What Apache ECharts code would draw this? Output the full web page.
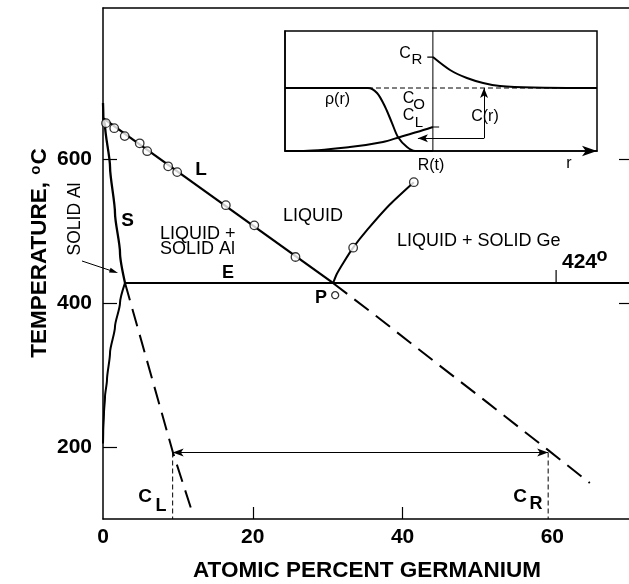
<!DOCTYPE html>
<html><head><meta charset="utf-8">
<script src="https://cdn.jsdelivr.net/npm/echarts@6/dist/echarts.min.js"></script>
<style>html,body{margin:0;padding:0;background:#fff}#c{width:629px;height:584px}</style>
</head><body><div id="c"></div>
<script>
// ---- main diagram data (atomic % Ge, temperature °C) ----
const xLabels = [0, 20, 40, 60];
const xTickMarks = [20, 40];
const yLabels = [200, 400, 600];
const liquidusSolid = [[0, 657], [30.7, 428]];
const liquidusDashed = [[30.7, 428], [36.6, 381], [44.1, 320], [51.3, 262], [59.4, 196], [65.0, 150]];
const liquidusPoints = [[0.4, 650], [1.5, 643], [2.9, 632], [4.9, 622], [5.9, 611], [8.7, 590], [9.9, 582], [16.4, 536], [20.2, 508], [25.7, 464]];
const geLiquidus = [[30.7, 427], [31.2, 440], [32.1, 456], [33.4, 477], [35.3, 502], [38.3, 537], [41.5, 568]];
const gePoints = [[33.4, 477], [41.5, 568]];
const pPoint = [[31.0, 411]];
const eutectic = [[2.94, 428], [70.5, 428]];
const solidus = [[0, 678], [0.05, 657], [0.27, 647], [0.94, 589], [1.6, 525], [2.27, 470], [2.94, 428]];
const solvus = [[2.94, 428], [2.27, 400], [1.6, 367], [0.94, 331], [0.53, 293], [0.27, 270], [0.13, 247], [0.03, 222], [0, 205]];
const solidusDashed = [[2.94, 428], [9.35, 192], [11.9, 110]];
const tieTemp = 192.4;
const cLx = 9.3;
const cRx = 59.44;
const axisMinT = 100;
const tick424 = [[60.5, 428], [60.5, 446]];
// ---- inset data (r, concentration), both 0..100 ----
const rhoCurve = [[0, 52.5], [26.6, 52.5], [29.5, 48.3], [32.1, 36.7], [34.3, 23.3], [36.2, 11.7], [39.1, 3.3], [41.7, 0], [47.4, 0]];
const cLeft = [[0, 0], [4.8, 0], [20.8, 3.3], [31.4, 7.5], [36.9, 11.7], [42.3, 15.8], [47.4, 20]];
const cRight = [[47.4, 78.3], [52.9, 67.5], [58.3, 60.8], [63.5, 56.7], [68.9, 54.2], [79.5, 52.9], [100, 52.5]];
const c0Line = [[26.6, 52.5], [100, 52.5]];
const interfaceLine = [[47.4, 0], [47.4, 100]];
const cRTick = [[45.6, 78.3], [47.4, 78.3]];
const cLTick = [[47.4, 20], [49.4, 20]];
const cArrowFoot = [63.8, 10.6];
const cArrowUp = [63.8, 52.5];
const cArrowLeft = [42.6, 10.6];

const F = '"Liberation Sans", Arial, Helvetica, sans-serif';
const chart = echarts.init(document.getElementById('c'), null, {renderer: 'canvas'});

function ln(data, xi, w, type, extra) {
  return Object.assign({
    type: 'line', data: data, xAxisIndex: xi, yAxisIndex: xi, symbol: 'none', silent: true,
    lineStyle: {color: '#000', width: w, type: type || 'solid'}, z: 3
  }, extra || {});
}
function sc(data, size) {
  return {type: 'scatter', data: data, symbol: 'circle', symbolSize: size, silent: true, z: 5,
    xAxisIndex: 0, yAxisIndex: 0,
    itemStyle: {color: '#fff', borderColor: '#000', borderWidth: 1.3}};
}
function txt(text, x, y, size, weight, align, rot) {
  return {type: 'text', x: x, y: y, rotation: rot || 0, silent: true, z: 10,
    style: {text: text, fill: '#000', font: (weight || 'normal') + ' ' + size + 'px ' + F,
      textAlign: align || 'center', textVerticalAlign: 'middle'}};
}

const option = {
  animation: false,
  backgroundColor: '#fff',
  grid: [
    {left: 103, top: 8, right: -2, bottom: 65, show: false, containLabel: false, outerBoundsMode: 'none'},
    {left: 285, top: 31, width: 312, height: 120, show: true, borderColor: '#000', borderWidth: 1.5,
      backgroundColor: 'transparent', z: 4, containLabel: false, outerBoundsMode: 'none'}
  ],
  xAxis: [
    {type: 'value', gridIndex: 0, min: 0, max: 70.5, interval: 20, position: 'bottom',
      name: 'ATOMIC PERCENT GERMANIUM', nameLocation: 'middle', nameGap: 40, nameMoveOverlap: false,
      nameTextStyle: {fontFamily: F, fontWeight: 'bold', fontSize: 22.5, color: '#000'},
      axisLine: {show: true, onZero: false, lineStyle: {color: '#000', width: 1.5}},
      axisTick: {show: true, inside: true, length: 12, customValues: xTickMarks, lineStyle: {color: '#000', width: 1.2}},
      axisLabel: {show: true, customValues: xLabels, margin: 8, fontFamily: F, fontWeight: 'bold', fontSize: 21, color: '#000'},
      splitLine: {show: false}},
    {type: 'value', gridIndex: 0, min: 0, max: 70.5, position: 'top',
      axisLine: {show: true, onZero: false, lineStyle: {color: '#000', width: 1.5}},
      axisTick: {show: false}, axisLabel: {show: false}, splitLine: {show: false}},
    {type: 'value', gridIndex: 1, min: 0, max: 100, position: 'bottom',
      axisLine: {show: true, onZero: false, symbol: ['none', 'arrow'], symbolSize: [8, 15], lineStyle: {color: '#000', width: 1.5}},
      axisTick: {show: false}, axisLabel: {show: false}, splitLine: {show: false}}
  ],
  yAxis: [
    {type: 'value', gridIndex: 0, min: axisMinT, max: 810, position: 'left',
      axisLine: {show: true, onZero: false, lineStyle: {color: '#000', width: 1.5}},
      axisTick: {show: true, inside: true, length: 14, customValues: yLabels, lineStyle: {color: '#000', width: 1.2}},
      axisLabel: {show: true, customValues: yLabels, margin: 11, fontFamily: F, fontWeight: 'bold', fontSize: 21, color: '#000'},
      splitLine: {show: false}},
    {type: 'value', gridIndex: 0, min: axisMinT, max: 810, position: 'right',
      axisLine: {show: true, onZero: false, lineStyle: {color: '#000', width: 1.5}},
      axisTick: {show: true, inside: true, length: 12, customValues: [400, 600], lineStyle: {color: '#000', width: 1.2}},
      axisLabel: {show: false}, splitLine: {show: false}},
    {type: 'value', gridIndex: 1, min: 0, max: 100, position: 'left',
      axisLine: {show: true, onZero: false, lineStyle: {color: '#000', width: 1.5}},
      axisTick: {show: false}, axisLabel: {show: false}, splitLine: {show: false}}
  ],
  series: [
    ln(liquidusSolid, 0, 2.3),
    ln(liquidusDashed, 0, 2, [18, 9]),
    ln(geLiquidus, 0, 2, 'solid', {smooth: 0.2}),
    ln(eutectic, 0, 2),
    ln(solidus, 0, 2.3, 'solid', {smooth: 0.25, smoothMonotone: 'y'}),
    ln(solvus, 0, 2, 'solid', {smooth: 0.25, smoothMonotone: 'y'}),
    ln(solidusDashed, 0, 2, [18, 9]),
    ln([[cLx, tieTemp], [cLx, axisMinT]], 0, 1, [5, 3]),
    ln([[cRx, tieTemp], [cRx, axisMinT]], 0, 1, [5, 3], {
      markLine: {silent: true, symbol: ['arrow', 'arrow'], symbolSize: [6, 11], label: {show: false},
        lineStyle: {color: '#000', width: 1, type: 'solid'}, emphasis: {disabled: true},
        data: [[{coord: [cLx, tieTemp]}, {coord: [cRx, tieTemp]}]]}
    }),
    ln(tick424, 0, 1.2),
    sc(liquidusPoints, 8.5),
    sc(gePoints, 8.5),
    sc(pPoint, 7),
    // inset
    ln(rhoCurve, 2, 2, 'solid', {smooth: 0.3}),
    ln(cLeft, 2, 2, 'solid', {smooth: 0.3}),
    ln(cRight, 2, 2, 'solid', {smooth: 0.3}),
    ln(c0Line, 2, 1, [5, 3]),
    ln(interfaceLine, 2, 1),
    ln(cRTick, 2, 1.2),
    ln(cLTick, 2, 1.2, 'solid', {
      markLine: {silent: true, label: {show: false}, symbolSize: [6, 10],
        lineStyle: {color: '#000', width: 1, type: 'solid'}, emphasis: {disabled: true},
        data: [
          [{coord: cArrowFoot, symbol: 'none'}, {coord: cArrowUp, symbol: 'arrow'}],
          [{coord: cArrowFoot, symbol: 'none'}, {coord: cArrowLeft, symbol: 'arrow'}]
        ]}
    })
  ],
  graphic: [
    {type: 'text', x: 40, y: 253, rotation: Math.PI / 2, silent: true, z: 10,
      style: {text: 'TEMPERATURE, {s|o}C', fill: '#000', font: 'bold 22.5px ' + F,
        textAlign: 'center', textVerticalAlign: 'middle',
        rich: {s: {fontFamily: F, fontWeight: 'bold', fontSize: 15, fill: '#000', verticalAlign: 'top', padding: [0, 1, 8, 1]}}}},
    txt('L', 201, 170, 19, 'bold'),
    txt('S', 127.5, 221, 19, 'bold'),
    txt('LIQUID +', 160, 234, 18, 'normal', 'left'),
    txt('SOLID Al', 160, 249, 18, 'normal', 'left'),
    txt('LIQUID', 313, 216, 18),
    txt('E', 228, 273, 18, 'bold'),
    txt('P', 321, 298, 18, 'bold'),
    txt('LIQUID + SOLID Ge', 397, 241, 18, 'normal', 'left'),
    txt('424', 562, 262, 21, 'bold', 'left'),
    txt('o', 602, 256, 18, 'bold'),
    txt('SOLID Al', 75, 219, 17.5, 'normal', 'center', Math.PI / 2),
    {type: 'line', silent: true, z: 10, shape: {x1: 82, y1: 261, x2: 112, y2: 271}, style: {stroke: '#000', lineWidth: 1}},
    {type: 'polygon', silent: true, z: 10, shape: {points: [[118, 273], [110.6, 267.8], [109.0, 272.6]]}, style: {fill: '#000'}},
    txt('C', 145, 497, 19, 'bold'),
    txt('L', 161, 506, 18, 'bold'),
    txt('C', 520, 497, 19, 'bold'),
    txt('R', 536, 504, 18, 'bold'),
    // inset labels
    txt('C', 405, 53.5, 16),
    txt('R', 417, 60, 15),
    txt('C', 408.5, 98.5, 16),
    txt('O', 419, 105, 15),
    txt('C', 408.5, 116, 16),
    txt('L', 419, 123, 15),
    txt('\u03c1(r)', 337.5, 100, 16),
    txt('C(r)', 485, 117, 16),
    txt('R(t)', 431, 165.5, 16),
    txt('r', 569, 164, 16)
  ]
};
chart.setOption(option);
</script>
</body></html>
